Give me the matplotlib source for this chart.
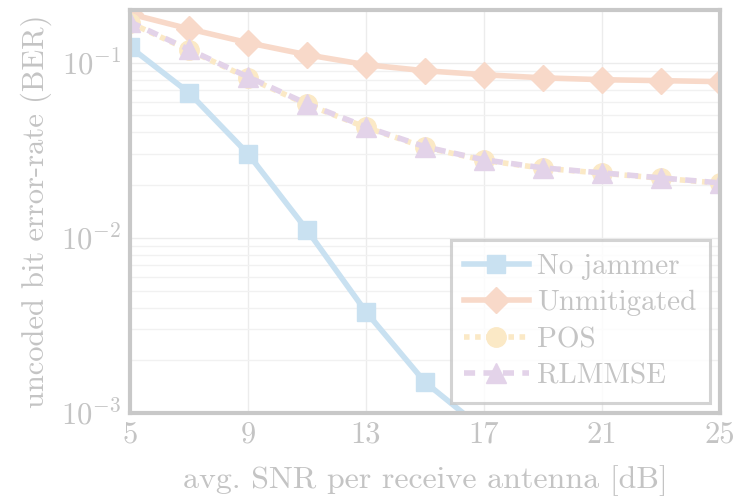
import matplotlib
matplotlib.use("Agg")
import matplotlib.pyplot as plt
import numpy as np

snr = [5, 7, 9, 11, 13, 15, 17, 19, 21, 23, 25]
no_jammer = [0.123, 0.0674, 0.0302, 0.0111, 0.00378, 0.00150, 0.0008, 0.0003, 0.0001, 0.00004, 0.000015]
unmitigated = [0.19, 0.156, 0.130, 0.111, 0.0974, 0.090, 0.0854, 0.082, 0.080, 0.079, 0.078]
pos = [0.169, 0.118, 0.082, 0.0578, 0.0427, 0.0329, 0.0277, 0.0250, 0.0234, 0.0219, 0.0205]
rlmmse = [0.171, 0.119, 0.083, 0.0583, 0.043, 0.0331, 0.0279, 0.0251, 0.0235, 0.022, 0.0206]
xticks = [5, 9, 13, 17, 21, 25]

txt = "#c4c4c4"
plt.rcParams['font.family'] = ['cmr10']
plt.rcParams['mathtext.fontset'] = 'cm'
plt.rcParams['axes.formatter.use_mathtext'] = True

fig = plt.figure(figsize=(7.35, 4.97), dpi=100)
ax = fig.add_axes([130/735, 1-413/497, 590/735, 403/497])

ax.plot(snr, no_jammer, color="#c9e1f1", lw=4, marker="s", ms=13, label="No jammer")
ax.plot(snr, unmitigated, color="#f8d9c9", lw=4, marker="D", ms=13, label="Unmitigated")
ax.plot(snr, pos, color="#fbe9c6", lw=4, ls=(0, (1, 1)), marker="o", ms=14, label="POS")
ax.plot(snr, rlmmse, color="#e3d3e9", lw=4, ls=(0, (2, 1.5)), marker="^", ms=14, label="RLMMSE")

ax.set_yscale("log")
ax.set_xlim(5, 25)
ax.set_ylim(1e-3, 0.2)
ax.set_xticks(xticks)
ax.set_xticklabels([str(v) for v in xticks])
ax.grid(True, which="major", color="#ececec", lw=1)
ax.grid(True, which="minor", color="#f1f1f1", lw=1)
ax.set_axisbelow(True)
ax.tick_params(which="both", length=0, labelsize=22, colors=txt, pad=6)
for s in ax.spines.values():
    s.set_color("#c8c8c8")
    s.set_linewidth(3)

ax.set_xlabel("avg. SNR per receive antenna [dB]", fontsize=23, color=txt, labelpad=12)
ax.set_ylabel("uncoded bit error-rate (BER)", fontsize=22, color=txt, labelpad=7)

leg = ax.legend(loc="lower right", fontsize=21, handlelength=2.2, frameon=True,
                fancybox=False, borderaxespad=0.35, labelspacing=0.35, handletextpad=0.3,
                borderpad=0.45)
leg.get_frame().set_edgecolor("#c8c8c8")
leg.get_frame().set_linewidth(2.2)
for t in leg.get_texts():
    t.set_color(txt)

fig.savefig("out.png", dpi=100)
